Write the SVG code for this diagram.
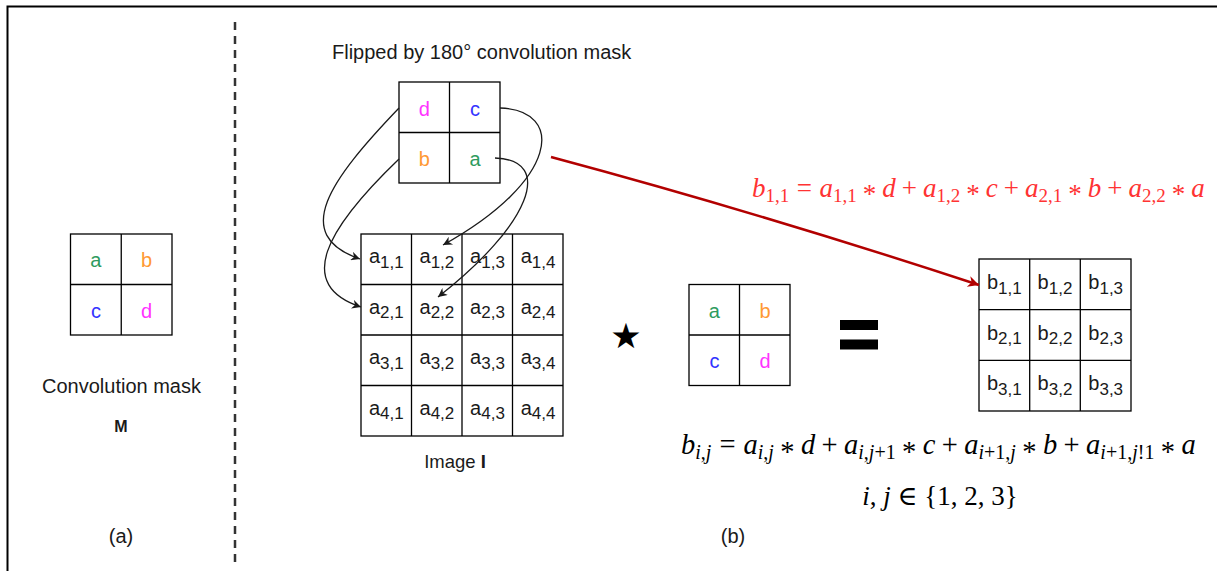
<svg xmlns="http://www.w3.org/2000/svg" width="1217" height="571" viewBox="0 0 1217 571">
<style>
.cell{fill:#fff;stroke:#000;stroke-width:1.3}
.ln{stroke:#000;stroke-width:1.3}
.sans{font-family:"Liberation Sans",Arial,sans-serif;fill:#1a1a1a}
.ml{font-family:"Liberation Sans",Arial,sans-serif;font-size:20px;text-anchor:middle}
.ca{fill:#2e9b5e}.cb{fill:#ff9933}.cc{fill:#3333ff}.cd{fill:#ff33ff}
.g{font-family:"Liberation Sans",Arial,sans-serif;font-size:20px;fill:#1a1a1a;text-anchor:middle}
.sub{font-size:17px}
.math{font-family:"Liberation Serif","DejaVu Serif",serif;font-size:27px}
.math2{font-family:"Liberation Serif","DejaVu Serif",serif;font-size:28.5px}
.v{font-style:italic}
.ms{font-size:19px}
.ms2{font-size:20px}
.conn{fill:none;stroke:#1a1a1a;stroke-width:1.3}
</style>
<defs>
<marker id="ah" viewBox="0 0 10 10" refX="10" refY="5" markerWidth="11" markerHeight="9" orient="auto" markerUnits="userSpaceOnUse"><path d="M0,0 L10,5 L0,10 L3,5 z" fill="#1a1a1a"/></marker>
<marker id="ahr" viewBox="0 0 10 10" refX="10" refY="5" markerWidth="15" markerHeight="11" orient="auto" markerUnits="userSpaceOnUse"><path d="M0,0 L10,5 L0,10 L3,5 z" fill="#b20000"/></marker>
</defs>
<rect width="1217" height="571" fill="#fff"/>
<path d="M7.5 571 V6.5 H1217" fill="none" stroke="#000" stroke-width="2"/>
<line x1="235" y1="22" x2="235" y2="564" stroke="#333" stroke-width="2.5" stroke-dasharray="8 6"/>

<g id="mask-M">
<rect class="cell" x="70.5" y="234" width="101.5" height="101"/>
<line class="ln" x1="121.25" y1="234" x2="121.25" y2="335"/>
<line class="ln" x1="70.5" y1="284.5" x2="172" y2="284.5"/>
<text class="ml ca" x="95.9" y="267">a</text>
<text class="ml cb" x="146.6" y="267">b</text>
<text class="ml cc" x="95.9" y="317.5">c</text>
<text class="ml cd" x="146.6" y="317.5">d</text>
</g>
<g id="label-a">
<text class="sans" x="121.5" y="392.5" font-size="20" text-anchor="middle">Convolution mask</text>
<text class="sans" x="121" y="431.5" font-size="16" font-weight="bold" text-anchor="middle">M</text>
<text class="sans" x="121" y="543" font-size="20" text-anchor="middle">(a)</text>
</g>

<g id="flipped-mask">
<text class="sans" x="332" y="59" font-size="20">Flipped by 180° convolution mask</text>
<rect class="cell" x="399" y="82" width="101" height="101"/>
<line class="ln" x1="449.5" y1="82" x2="449.5" y2="183"/>
<line class="ln" x1="399" y1="132.5" x2="500" y2="132.5"/>
<text class="ml cd" x="424.3" y="115.5">d</text>
<text class="ml cc" x="475" y="115.5">c</text>
<text class="ml cb" x="424.3" y="166">b</text>
<text class="ml ca" x="475" y="166">a</text>
</g>

<g id="image-I">
<rect class="cell" x="361" y="234" width="202" height="202"/>
<line class="ln" x1="411.5" y1="234" x2="411.5" y2="436"/>
<line class="ln" x1="462" y1="234" x2="462" y2="436"/>
<line class="ln" x1="512.5" y1="234" x2="512.5" y2="436"/>
<line class="ln" x1="361" y1="284.5" x2="563" y2="284.5"/>
<line class="ln" x1="361" y1="335" x2="563" y2="335"/>
<line class="ln" x1="361" y1="385.5" x2="563" y2="385.5"/>
<text class="g" x="386.3" y="263">a<tspan class="sub" dy="4.5">1,1</tspan></text>
<text class="g" x="436.9" y="263">a<tspan class="sub" dy="4.5">1,2</tspan></text>
<text class="g" x="487.5" y="263">a<tspan class="sub" dy="4.5">1,3</tspan></text>
<text class="g" x="538.1" y="263">a<tspan class="sub" dy="4.5">1,4</tspan></text>
<text class="g" x="386.3" y="313.6">a<tspan class="sub" dy="4.5">2,1</tspan></text>
<text class="g" x="436.9" y="313.6">a<tspan class="sub" dy="4.5">2,2</tspan></text>
<text class="g" x="487.5" y="313.6">a<tspan class="sub" dy="4.5">2,3</tspan></text>
<text class="g" x="538.1" y="313.6">a<tspan class="sub" dy="4.5">2,4</tspan></text>
<text class="g" x="386.3" y="364.2">a<tspan class="sub" dy="4.5">3,1</tspan></text>
<text class="g" x="436.9" y="364.2">a<tspan class="sub" dy="4.5">3,2</tspan></text>
<text class="g" x="487.5" y="364.2">a<tspan class="sub" dy="4.5">3,3</tspan></text>
<text class="g" x="538.1" y="364.2">a<tspan class="sub" dy="4.5">3,4</tspan></text>
<text class="g" x="386.3" y="414.8">a<tspan class="sub" dy="4.5">4,1</tspan></text>
<text class="g" x="436.9" y="414.8">a<tspan class="sub" dy="4.5">4,2</tspan></text>
<text class="g" x="487.5" y="414.8">a<tspan class="sub" dy="4.5">4,3</tspan></text>
<text class="g" x="538.1" y="414.8">a<tspan class="sub" dy="4.5">4,4</tspan></text>
<text class="sans" x="455" y="468" font-size="18.5" text-anchor="middle">Image <tspan font-weight="bold">I</tspan></text>
</g>

<g id="star-op">
<text x="626" y="348" font-family="DejaVu Sans,sans-serif" font-size="35" text-anchor="middle" fill="#000">★</text>
</g>

<g id="mask-2">
<rect class="cell" x="689" y="284.5" width="101" height="101"/>
<line class="ln" x1="739.5" y1="284.5" x2="739.5" y2="385.5"/>
<line class="ln" x1="689" y1="335" x2="790" y2="335"/>
<text class="ml ca" x="714.4" y="317.5">a</text>
<text class="ml cb" x="765" y="317.5">b</text>
<text class="ml cc" x="714.4" y="368">c</text>
<text class="ml cd" x="765" y="368">d</text>
</g>

<g id="equals-op">
<rect x="840" y="320" width="38" height="10" fill="#000"/>
<rect x="840" y="339.5" width="38" height="10" fill="#000"/>
</g>

<g id="result-B">
<rect class="cell" x="979" y="259" width="152" height="152"/>
<line class="ln" x1="1029.7" y1="259" x2="1029.7" y2="411"/>
<line class="ln" x1="1080.3" y1="259" x2="1080.3" y2="411"/>
<line class="ln" x1="979" y1="309.7" x2="1131" y2="309.7"/>
<line class="ln" x1="979" y1="360.3" x2="1131" y2="360.3"/>
<text class="g" x="1004.3" y="289">b<tspan class="sub" dy="4.5">1,1</tspan></text>
<text class="g" x="1055" y="289">b<tspan class="sub" dy="4.5">1,2</tspan></text>
<text class="g" x="1105.7" y="289">b<tspan class="sub" dy="4.5">1,3</tspan></text>
<text class="g" x="1004.3" y="339.7">b<tspan class="sub" dy="4.5">2,1</tspan></text>
<text class="g" x="1055" y="339.7">b<tspan class="sub" dy="4.5">2,2</tspan></text>
<text class="g" x="1105.7" y="339.7">b<tspan class="sub" dy="4.5">2,3</tspan></text>
<text class="g" x="1004.3" y="390.3">b<tspan class="sub" dy="4.5">3,1</tspan></text>
<text class="g" x="1055" y="390.3">b<tspan class="sub" dy="4.5">3,2</tspan></text>
<text class="g" x="1105.7" y="390.3">b<tspan class="sub" dy="4.5">3,3</tspan></text>
</g>

<g id="formula-b11">
<text class="math" fill="#ff3333" x="752" y="197"><tspan class="v">b</tspan><tspan class="ms" dy="5">1,1</tspan><tspan dx="7.5" dy="-5">=</tspan><tspan class="v" dx="7.5">a</tspan><tspan class="ms" dy="5">1,1</tspan><tspan dx="6" dy="1">*</tspan><tspan class="v" dx="6" dy="-6">d</tspan><tspan dx="6">+</tspan><tspan class="v" dx="6">a</tspan><tspan class="ms" dy="5">1,2</tspan><tspan dx="6" dy="1">*</tspan><tspan class="v" dx="6" dy="-6">c</tspan><tspan dx="6">+</tspan><tspan class="v" dx="6">a</tspan><tspan class="ms" dy="5">2,1</tspan><tspan dx="6" dy="1">*</tspan><tspan class="v" dx="6" dy="-6">b</tspan><tspan dx="6">+</tspan><tspan class="v" dx="6">a</tspan><tspan class="ms" dy="5">2,2</tspan><tspan dx="6" dy="1">*</tspan><tspan class="v" dx="6" dy="-6">a</tspan></text>
</g>

<g id="formula-bij">
<text class="math2" fill="#000" x="681" y="454"><tspan class="v">b</tspan><tspan class="ms2" dy="5"><tspan class="v">i</tspan>,<tspan class="v">j</tspan></tspan><tspan dx="8" dy="-5">=</tspan><tspan class="v" dx="8">a</tspan><tspan class="ms2" dy="5"><tspan class="v">i</tspan>,<tspan class="v">j</tspan></tspan><tspan dx="6.4" dy="1.5">*</tspan><tspan class="v" dx="6.4" dy="-6.5">d</tspan><tspan dx="6.4">+</tspan><tspan class="v" dx="6.4">a</tspan><tspan class="ms2" dy="5"><tspan class="v">i</tspan>,<tspan class="v">j</tspan>+1</tspan><tspan dx="6.4" dy="1.5">*</tspan><tspan class="v" dx="6.4" dy="-6.5">c</tspan><tspan dx="6.4">+</tspan><tspan class="v" dx="6.4">a</tspan><tspan class="ms2" dy="5"><tspan class="v">i</tspan>+1,<tspan class="v">j</tspan></tspan><tspan dx="6.4" dy="1.5">*</tspan><tspan class="v" dx="6.4" dy="-6.5">b</tspan><tspan dx="6.4">+</tspan><tspan class="v" dx="6.4">a</tspan><tspan class="ms2" dy="5"><tspan class="v">i</tspan>+1,<tspan class="v">j</tspan>!1</tspan><tspan dx="6.4" dy="1.5">*</tspan><tspan class="v" dx="6.4" dy="-6.5">a</tspan></text>
<text class="math" fill="#000" x="940" y="505" text-anchor="middle"><tspan class="v">i</tspan>, <tspan class="v">j</tspan> ∈ {1, 2, 3}</text>
<text class="sans" x="733" y="543" font-size="20" text-anchor="middle">(b)</text>
</g>

<g id="connectors">
<path class="conn" d="M399 108 C330 180 290 235 360 259" marker-end="url(#ah)"/>
<path class="conn" d="M399 159 C325 230 295 285 361 307" marker-end="url(#ah)"/>
<path class="conn" d="M500 108 C565 110 560 180 443 245" marker-end="url(#ah)"/>
<path class="conn" d="M495 158 C555 160 530 225 438 297" marker-end="url(#ah)"/>
<path d="M551 157 Q760 213 979 285" fill="none" stroke="#b20000" stroke-width="2.5" marker-end="url(#ahr)"/>
</g>
</svg>
